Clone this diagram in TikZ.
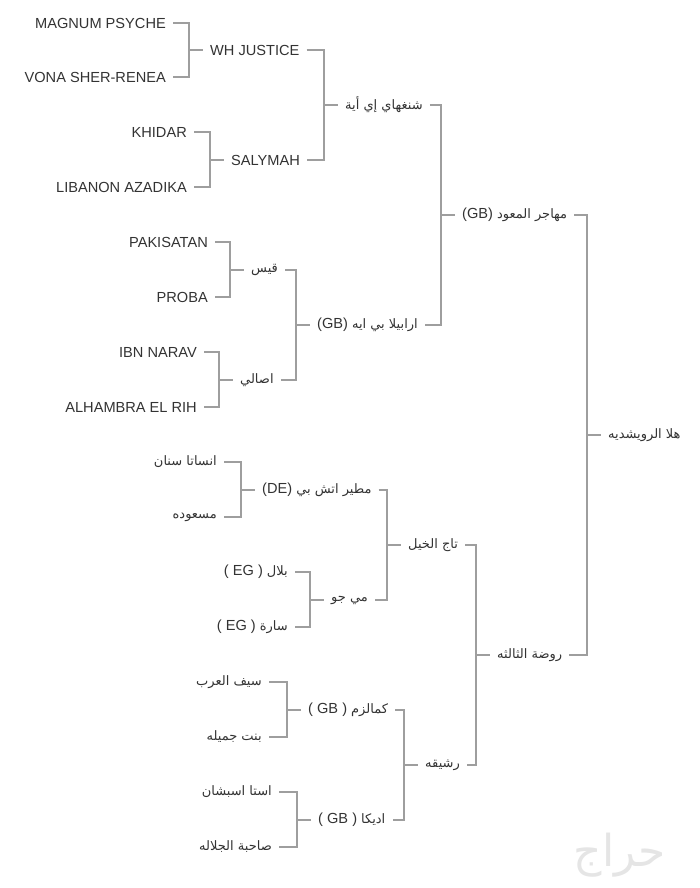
\documentclass[tikz,border=0pt]{standalone}
\usepackage{fontspec}
\setmainfont{Liberation Sans}
\newfontfamily\ar[Script=Arabic]{DejaVu Sans}
\TeXXeTstate=1
\newcommand{\AR}[1]{{\fontsize{13}{15}\ar\beginR #1\endR}}
\begin{document}
\begin{tikzpicture}[x=1pt,y=-1pt,
  lab/.style={inner sep=0pt,text=black!80,font=\fontsize{14.6}{16}\selectfont},
  ln/.style={draw=black!38,line width=1.6pt}]
\useasboundingbox[fill=white] (0,0) rectangle (700,888);
\newcommand{\pedig}[3]{%
  \draw[ln] ([xshift=7]#2.east) -| ([xshift=-21]#1.west) |- ([xshift=7]#3.east);
  \draw[ln] ([xshift=-21]#1.west) -- ([xshift=-7]#1.west);}
% top half
\node[lab,anchor=east] (a1) at (166,23) {MAGNUM PSYCHE};
\node[lab,anchor=east] (a2) at (166,77) {VONA SHER-RENEA};
\node[lab,anchor=east] (a3) at (187,132) {KHIDAR};
\node[lab,anchor=east] (a4) at (187,187) {LIBANON AZADIKA};
\node[lab,anchor=east] (a5) at (208,242) {PAKISATAN};
\node[lab,anchor=east] (a6) at (208,297) {PROBA};
\node[lab,anchor=east] (a7) at (197,352) {IBN NARAV};
\node[lab,anchor=east] (a8) at (197,407) {ALHAMBRA EL RIH};
\node[lab,anchor=west] (b1) at (210,50) {WH JUSTICE};
\node[lab,anchor=west] (b2) at (231,160) {SALYMAH};
\node[lab,anchor=west] (b3) at (251,270) {\AR{قيس}};
\node[lab,anchor=west] (b4) at (240,380) {\AR{اصالي}};
\node[lab,anchor=west] (c1) at (345,105) {\AR{شنغهاي إي أية}};
\node[lab,anchor=west] (c2) at (317,325) {(GB) \AR{ارابيلا بي ايه}};
\node[lab,anchor=west] (d1) at (462,215) {(GB) \AR{مهاجر المعود}};
% bottom half
\node[lab,anchor=east] (e1) at (217,462) {\AR{انساتا سنان}};
\node[lab,anchor=east] (e2) at (217,517) {\AR{مسعوده}};
\node[lab,anchor=east] (e3) at (288,572) {( EG ) \AR{بلال}};
\node[lab,anchor=east] (e4) at (288,627) {( EG ) \AR{سارة}};
\node[lab,anchor=east] (e5) at (262,682) {\AR{سيف العرب}};
\node[lab,anchor=east] (e6) at (262,737) {\AR{بنت جميله}};
\node[lab,anchor=east] (e7) at (272,792) {\AR{استا اسبشان}};
\node[lab,anchor=east] (e8) at (272,847) {\AR{صاحبة الجلاله}};
\node[lab,anchor=west] (f1) at (262,490) {(DE) \AR{مطير اتش بي}};
\node[lab,anchor=west] (f2) at (331,600) {\AR{مي جو}};
\node[lab,anchor=west] (f3) at (308,710) {( GB ) \AR{كمالزم}};
\node[lab,anchor=west] (f4) at (318,820) {( GB ) \AR{اديكا}};
\node[lab,anchor=west] (g1) at (408,545) {\AR{تاج الخيل}};
\node[lab,anchor=west] (g2) at (425,765) {\AR{رشيقه}};
\node[lab,anchor=west] (h1) at (497,655) {\AR{روضة الثالثه}};
\node[lab,anchor=west] (r) at (608,435) {\AR{هلا الرويشديه}};
% connectors
\pedig{b1}{a1}{a2}\pedig{b2}{a3}{a4}\pedig{b3}{a5}{a6}\pedig{b4}{a7}{a8}
\pedig{c1}{b1}{b2}\pedig{c2}{b3}{b4}\pedig{d1}{c1}{c2}
\pedig{f1}{e1}{e2}\pedig{f2}{e3}{e4}\pedig{f3}{e5}{e6}\pedig{f4}{e7}{e8}
\pedig{g1}{f1}{f2}\pedig{g2}{f3}{f4}\pedig{h1}{g1}{g2}\pedig{r}{d1}{h1}
\node[text=black!10,font=\fontsize{44}{44}\ar] (wm) at (620,855) {\beginR حراج\endR};
\end{tikzpicture}
\end{document}
